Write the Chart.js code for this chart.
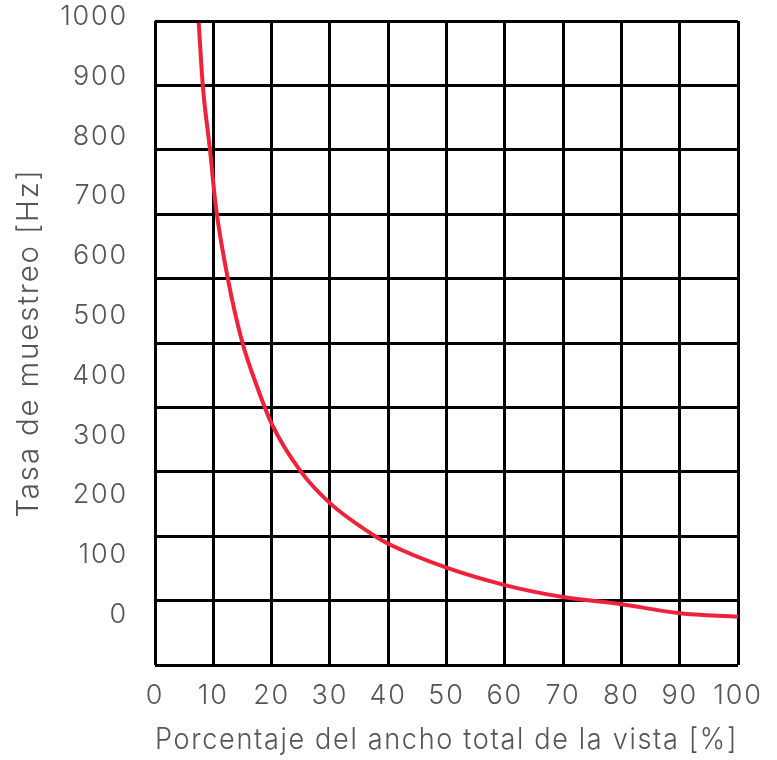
<!DOCTYPE html>
<html>
<head>
<meta charset="utf-8">
<script src="https://cdn.jsdelivr.net/npm/chart.js@4"></script>
<style>
  html, body { margin: 0; padding: 0; background: #fff; }
  #wrap { width: 777px; height: 760px; }
</style>
</head>
<body>
<div id="wrap"><canvas id="chart"></canvas></div>
<script>
// values
const viewPercent = [7.5, 8.2, 9.5, 10, 10.5, 12.5, 15, 17.5, 20, 25, 30, 37.7, 40, 50, 60, 70, 80, 90, 100];
const sampleRateHz = [990, 885, 772, 722, 678, 562, 455, 382, 320, 240, 187, 132, 119, 79, 50, 30, 18, 3, -3];
const yTickValues = [0, 100, 200, 300, 400, 500, 600, 700, 800, 900, 1000];
const xTickStep = 10;

const tickFont = { family: 'Inter', size: 27, weight: 300 };
const titleFont = { family: 'Inter', size: 29.5, weight: 300 };
const labelColor = '#555555';

// wider lettering, closer to the original typeface
const spacingPlugin = {
  id: 'spacing',
  beforeLayout: (chart) => { chart.ctx.letterSpacing = '1.8px'; },
  beforeDraw: (chart) => { chart.ctx.letterSpacing = '1.8px'; },
};

const ctx = document.getElementById('chart').getContext('2d');
new Chart(ctx, {
  type: 'line',
  data: {
    datasets: [
      {
        data: viewPercent.map((x, i) => ({ x: x, y: sampleRateHz[i] })),
        borderColor: 'rgb(238,34,58)',
        borderWidth: 4,
        pointRadius: 0,
        fill: false,
        cubicInterpolationMode: 'monotone',
        yAxisID: 'y',
      },
    ],
  },
  plugins: [spacingPlugin],
  options: {
    responsive: true,
    maintainAspectRatio: false,
    animation: false,
    layout: { padding: { left: 0, right: 39, top: 21, bottom: 0 } },
    plugins: { legend: { display: false }, tooltip: { enabled: false } },
    scales: {
      x: {
        type: 'linear',
        min: 0,
        max: 100,
        ticks: { stepSize: xTickStep, color: labelColor, font: tickFont, padding: 15 },
        grid: { color: '#000', lineWidth: 3, drawTicks: false },
        border: { display: false },
        title: {
          display: true,
          text: 'Porcentaje del ancho total de la vista [%]',
          color: labelColor,
          font: titleFont,
          padding: { top: 0, bottom: 2 },
        },
        afterFit: (scale) => {
          scale.height = 95;
          scale.paddingLeft = 0;
          scale.paddingRight = 0;
        },
      },
      y: {
        type: 'linear',
        position: 'left',
        min: -83.6,
        max: 993,
        afterBuildTicks: (scale) => {
          scale.ticks = yTickValues.map((v) => ({ value: v }));
        },
        ticks: {
          color: labelColor,
          font: tickFont,
          padding: 27,
          callback: (v) => String(v),
        },
        grid: { display: false, drawTicks: false },
        border: { display: false },
        title: {
          display: true,
          text: 'Tasa de muestreo [Hz]',
          color: labelColor,
          font: titleFont,
          padding: { top: 11, bottom: 0 },
        },
        afterFit: (scale) => {
          scale.width = 155;
          scale.paddingTop = 0;
          scale.paddingBottom = 0;
        },
      },
      // grid lines only: ten equal bands over the plot
      yGrid: {
        type: 'linear',
        position: 'right',
        min: 0,
        max: 10,
        ticks: { display: false, stepSize: 1 },
        grid: { color: '#000', lineWidth: 3, drawTicks: false },
        border: { display: false },
        afterFit: (scale) => { scale.width = 0; },
      },
    },
  },
});
</script>
</body>
</html>
